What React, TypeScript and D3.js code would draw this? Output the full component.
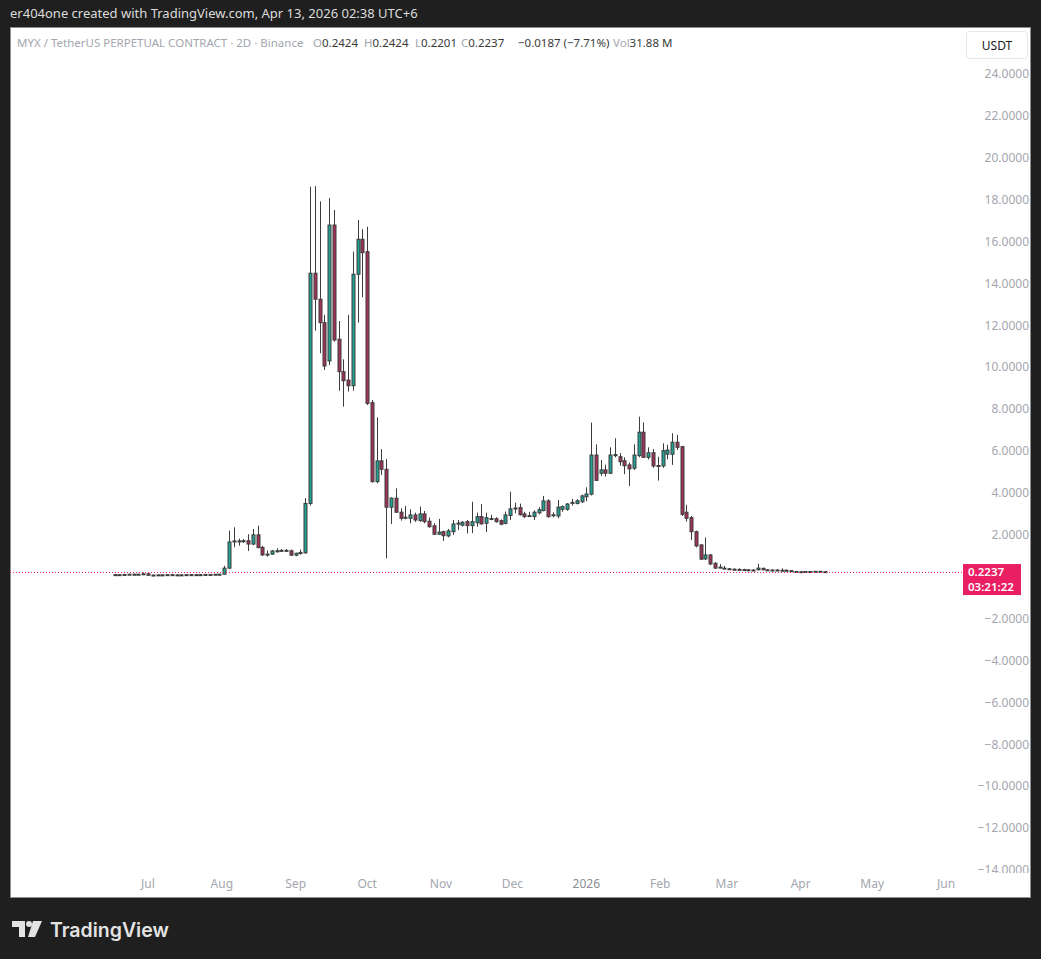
import React from "react";
import * as d3 from "d3";

const W = 1041;
const H = 959;

const firstCandle = "2025-06-17";
const stepDays = 2;

const openP = [
  0.10,0.09,0.10,0.11,0.12,0.11,0.12,0.14,0.07,0.08,0.09,0.08,0.10,0.08,0.09,0.08,0.10,0.09,0.10,0.09,0.11,0.10,0.12,
  0.12,0.41,1.66,1.71,1.70,1.72,1.56,2.00,1.40,1.04,
  1.08,1.23,1.24,1.26,1.24,1.03,1.12,1.14,3.50,14.49,
  13.25,12.13,10.30,16.79,11.34,9.79,9.39,9.12,14.44,16.11,
  15.52,8.31,4.54,5.53,5.13,3.32,3.75,3.08,2.80,2.79,
  2.95,2.68,3.00,2.65,2.43,2.03,2.15,1.95,2.15,2.52,
  2.46,2.63,2.44,2.58,2.87,2.55,2.77,2.77,2.68,2.55,
  2.92,3.26,3.30,3.00,2.88,2.87,3.05,3.16,3.62,2.94,
  2.90,3.22,3.22,3.53,3.50,3.58,3.82,3.94,5.81,4.94,
  5.10,4.94,5.80,5.73,5.54,5.34,5.18,5.78,6.90,5.70,
  5.92,5.29,5.29,5.85,5.85,6.42,6.21,3.08,2.82,2.15,
  1.52,0.85,1.04,0.64,0.44,0.41,0.38,0.36,0.35,0.34,
  0.33,0.32,0.33,0.40,0.33,0.32,0.32,0.31,0.31,0.29,
  0.25,0.24,0.24,0.25,0.24,0.26,0.2424,
];
const highP = [
  0.13,0.12,0.13,0.14,0.15,0.14,0.20,0.16,0.10,0.10,0.11,0.12,0.12,0.11,0.11,0.12,0.12,0.11,0.12,0.12,0.13,0.13,0.14,
  0.52,2.20,2.36,1.82,1.80,2.03,2.28,2.44,1.47,1.25,
  1.28,1.36,1.32,1.32,1.30,1.15,1.30,3.75,18.62,18.65,
  17.92,12.50,18.07,17.51,12.21,10.38,12.50,15.52,17.03,16.59,
  16.71,8.44,7.61,6.09,5.61,3.79,4.22,3.27,3.38,3.22,
  3.06,3.35,3.14,2.82,2.55,2.76,2.20,2.28,2.71,2.71,
  2.66,2.71,3.58,3.06,3.47,3.06,2.96,2.84,2.74,3.11,
  4.06,3.54,3.49,3.10,3.10,3.17,3.32,3.86,3.70,3.08,
  3.67,3.40,3.52,3.72,3.70,3.92,4.27,7.36,6.32,5.57,
  5.35,6.18,6.61,5.90,5.70,5.45,6.32,7.64,7.37,6.18,
  6.10,5.73,6.37,6.30,6.85,6.77,6.25,3.43,2.90,2.20,
  1.55,1.87,1.08,0.70,0.60,0.52,0.42,0.40,0.40,0.38,
  0.36,0.36,0.62,0.44,0.36,0.35,0.36,0.40,0.34,0.30,
  0.28,0.27,0.26,0.27,0.27,0.27,0.2424,
];
const lowP = [
  0.08,0.07,0.08,0.09,0.10,0.09,0.10,0.06,0.05,0.06,0.07,0.07,0.07,0.06,0.07,0.07,0.08,0.07,0.08,0.08,0.09,0.09,0.10,
  0.10,0.38,1.41,1.48,1.62,1.23,1.50,1.36,0.99,0.96,
  1.05,1.15,1.18,1.19,0.99,0.98,1.05,1.10,3.40,11.75,
  10.67,9.87,10.10,11.22,8.88,8.12,8.84,8.88,12.13,13.34,
  8.20,4.49,4.46,4.86,0.88,2.52,3.05,2.68,2.74,2.55,
  2.62,2.62,2.55,2.34,2.00,2.00,1.71,1.88,2.00,2.23,
  2.40,2.07,2.08,2.39,2.50,2.13,2.70,2.58,2.46,2.50,
  2.71,3.03,2.92,2.80,2.85,2.71,2.98,3.12,2.82,2.84,
  2.79,3.10,3.15,3.40,3.45,3.52,3.60,3.88,4.59,4.81,
  4.78,4.90,5.70,5.30,4.90,4.33,5.10,5.70,5.70,5.60,
  5.20,4.59,5.20,5.60,5.34,6.05,2.90,2.63,1.76,1.40,
  0.80,0.80,0.55,0.38,0.40,0.38,0.33,0.32,0.31,0.30,
  0.29,0.29,0.31,0.31,0.29,0.29,0.29,0.28,0.27,0.24,
  0.22,0.22,0.22,0.22,0.23,0.23,0.2201,
];
const closeP = [
  0.09,0.10,0.11,0.12,0.11,0.12,0.14,0.07,0.08,0.09,0.08,0.10,0.08,0.09,0.08,0.10,0.09,0.10,0.09,0.11,0.10,0.12,0.12,
  0.41,1.66,1.71,1.70,1.72,1.56,2.00,1.39,1.04,1.08,
  1.23,1.24,1.26,1.25,1.03,1.12,1.16,3.50,14.49,13.25,
  12.13,10.06,16.79,11.30,9.79,9.36,9.12,14.44,16.11,15.47,
  8.28,4.54,5.53,5.13,3.32,3.75,3.08,2.79,2.84,2.95,
  2.71,3.00,2.63,2.39,2.03,2.13,1.96,2.19,2.52,2.56,
  2.60,2.44,2.63,2.87,2.52,2.82,2.78,2.63,2.51,2.95,
  3.24,3.28,2.96,2.87,2.92,3.08,3.20,3.62,2.87,2.96,
  3.32,3.35,3.47,3.55,3.63,3.86,3.95,5.81,4.60,5.10,
  4.94,5.81,5.83,5.49,5.30,5.15,5.81,6.90,5.70,5.92,
  5.29,5.31,6.02,6.05,6.42,6.18,2.98,2.79,2.15,1.47,
  0.84,1.04,0.61,0.41,0.46,0.40,0.36,0.35,0.34,0.33,
  0.32,0.32,0.41,0.33,0.32,0.32,0.31,0.31,0.29,0.25,
  0.24,0.24,0.25,0.24,0.26,0.2424,0.2237,
];

const yTicks = [24, 22, 20, 18, 16, 14, 12, 10, 8, 6, 4, 2, -2, -4, -6, -8, -10, -12, -14];
const xTickDates = ["2025-07-01","2025-08-01","2025-09-01","2025-10-01","2025-11-01","2025-12-01","2026-01-01","2026-02-01","2026-03-01","2026-04-01","2026-05-01","2026-06-01"];
const xTickLabels = ["Jul","Aug","Sep","Oct","Nov","Dec","2026","Feb","Mar","Apr","May","Jun"];

const lastPrice = 0.2237;
const countdown = "03:21:22";

const UP = "#22a194";
const DOWN = "#a0325a";
const WICK = "#3d3d3d";
const FONT = "'Noto Sans', 'DejaVu Sans', sans-serif";
const LEG = 11.5;

const fmt = (v: number) => (v < 0 ? "\u2212" + Math.abs(v).toFixed(4) : v.toFixed(4));

export default function App() {
  const x = d3
    .scaleUtc()
    .domain([new Date(xTickDates[0] + "T00:00:00Z"), new Date(xTickDates[xTickDates.length - 1] + "T00:00:00Z")])
    .range([148, 946]);
  const y = d3.scaleLinear().domain([-14, 24]).range([870, 74]);

  const start = new Date(firstCandle + "T00:00:00Z");
  const candles = openP.map((o, i) => ({
    date: d3.utcDay.offset(start, i * stepDays),
    o,
    h: highP[i],
    l: lowP[i],
    c: closeP[i],
  }));

  const py = y(lastPrice);

  return (
    <div style={{ position: "absolute", left: 0, top: 0, width: W, height: H }}>
      <svg width={W} height={H} style={{ display: "block" }} fontFamily={FONT}>
        <defs>
          <clipPath id="plot">
            <rect x={10} y={27} width={953} height={846} />
          </clipPath>
          <clipPath id="yaxis">
            <rect x={963} y={60} width={68} height={813} />
          </clipPath>
        </defs>
        <rect x={0} y={0} width={W} height={H} fill="#1f1f1f" />
        <text x={10} y={18} fontSize={13} fill="#dcdcdc">
          er404one created with TradingView.com, Apr 13, 2026 02:38 UTC+6
        </text>
        <rect x={10.5} y={27.5} width={1020} height={870} fill="#ffffff" stroke="#8f8f8f" />

        {/* legend */}
        <text x={17} y={47} fontSize={LEG} fill="#a3a6ae">
          MYX / TetherUS PERPETUAL CONTRACT · 2D · Binance
        </text>
        <text x={313} y={47} fontSize={LEG} fill="#a3a6ae">O<tspan fill="#3a3a3a">0.2424</tspan></text>
        <text x={364} y={47} fontSize={LEG} fill="#a3a6ae">H<tspan fill="#3a3a3a">0.2424</tspan></text>
        <text x={415} y={47} fontSize={LEG} fill="#a3a6ae">L<tspan fill="#3a3a3a">0.2201</tspan></text>
        <text x={461} y={47} fontSize={LEG} fill="#a3a6ae">C<tspan fill="#3a3a3a">0.2237</tspan></text>
        <text x={518} y={47} fontSize={LEG} fill="#3a3a3a">{"\u22120.0187 (\u22127.71%)"}</text>
        <text x={613} y={47} fontSize={LEG} fill="#a3a6ae">Vol<tspan fill="#3a3a3a">31.88 M</tspan></text>

        {/* USDT box */}
        <rect x={966.5} y={31.5} width={61} height={27} rx={3} fill="#ffffff" stroke="#e6e6e6" />
        <text x={997} y={50} fontSize={12} fill="#1a1a1a" textAnchor="middle">USDT</text>

        {/* y axis labels */}
        <g clipPath="url(#yaxis)">
          {yTicks.map((t) => (
            <text key={t} x={1029} y={y(t)} dy="0.35em" fontSize={12} fill="#a3a6ae" textAnchor="end">
              {fmt(t)}
            </text>
          ))}
        </g>

        {/* x axis labels */}
        {xTickDates.map((d, i) => (
          <text
            key={d}
            x={x(new Date(d + "T00:00:00Z"))}
            y={888}
            fontSize={12}
            fill={xTickLabels[i] === "2026" ? "#8a8d95" : "#a3a6ae"}
            textAnchor="middle"
          >
            {xTickLabels[i]}
          </text>
        ))}

        {/* candles */}
        <g clipPath="url(#plot)">
          {candles.map((k, i) => {
            const cx = Math.round(x(k.date)) + 0.5;
            const up = k.c >= k.o;
            const top = y(Math.max(k.o, k.c));
            const bot = y(Math.min(k.o, k.c));
            const hgt = Math.max(1, bot - top);
            return (
              <g key={i}>
                <line x1={cx} x2={cx} y1={y(k.h)} y2={y(k.l)} stroke={WICK} strokeWidth={1} />
                <rect
                  x={cx - 1.5}
                  y={top}
                  width={3}
                  height={hgt}
                  fill={up ? UP : DOWN}
                  stroke={WICK}
                  strokeWidth={1}
                />
              </g>
            );
          })}
          <line
            x1={10}
            x2={963}
            y1={Math.round(py) + 0.5}
            y2={Math.round(py) + 0.5}
            stroke="#e91e63"
            strokeWidth={1}
            strokeDasharray="1,2"
          />
        </g>

        {/* last price label */}
        <rect x={963} y={py - 8} width={58} height={31} fill="#e91e63" />
        <text x={968} y={py + 3.5} fontSize={11.5} fontWeight={600} fill="#ffffff">
          {lastPrice.toFixed(4)}
        </text>
        <text x={968} y={py + 18.5} fontSize={11.5} fontWeight={600} fill="#ffffff">
          {countdown}
        </text>

        {/* TradingView logo */}
        <g fill="#e3e3e3">
          <path d="M12 921 H25 V937 H19 V927 H12 Z" />
          <circle cx={29} cy={924} r={3} />
          <path d="M33 921 H42 L35 937 H28 Z" />
        </g>
        <text x={50} y={937} fontSize={19.5} fontWeight={600} fill="#e3e3e3" fontFamily="Inter, 'Noto Sans', sans-serif">
          TradingView
        </text>
      </svg>
    </div>
  );
}
